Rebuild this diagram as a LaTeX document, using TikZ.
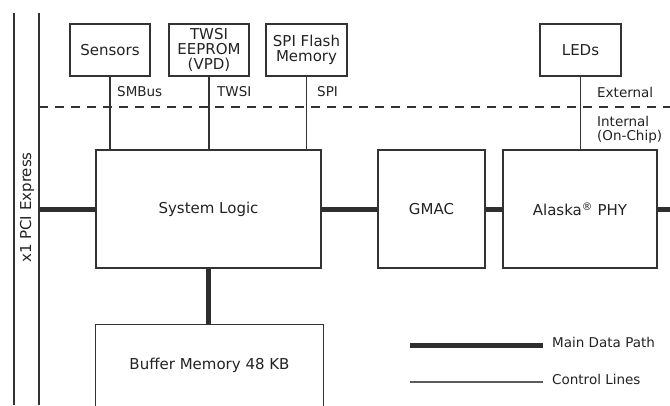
\documentclass[tikz,border=0pt]{standalone}
\usepackage{fontspec}
\setmainfont{DejaVu Sans}
\definecolor{linegray}{HTML}{333333}
\definecolor{textgray}{HTML}{222222}
\tikzstyle{block} = [draw=linegray, line width=1.2pt, rectangle, inner sep=0pt, align=center, text=textgray]
\tikzstyle{lbl} = [anchor=west, inner sep=0pt, text=textgray, align=left, font=\fontsize{13.5}{14}\selectfont]
\tikzstyle{ctrl} = [draw=linegray, line width=1.2pt]
\tikzstyle{datapath} = [draw=linegray!90!black, line width=5pt]

\begin{document}
\begin{tikzpicture}[x=1pt, y=-1pt, font=\fontsize{15}{15}\selectfont]
      \useasboundingbox (0,0) rectangle (670,405);

      \node[block, minimum width=80pt, minimum height=52pt] (sens) at (110,50) {Sensors};
      \node[block, minimum width=80pt, minimum height=52pt] (twsi) at (209,50) {TWSI\\EEPROM\\(VPD)};
      \node[block, minimum width=81pt, minimum height=52pt] (spi) at (306.5,50) {SPI Flash\\Memory};
      \node[block, minimum width=81pt, minimum height=52pt] (leds) at (580.5,50) {LEDs};

      \node[block, minimum width=225pt, minimum height=118pt] (logic) at (208.5,209) {System Logic};
      \node[block, minimum width=107pt, minimum height=118pt] (gmac) at (431.5,209) {GMAC};
      \node[block, minimum width=154pt, minimum height=118pt] (phy) at (580,209) {Alaska\textsuperscript{®} PHY};
      \node[block, draw=none, minimum width=227pt, minimum height=80pt] (buf) at (209.5,365) {Buffer Memory 48 KB};

      \node[lbl] (smbus) at (117,92) {SMBus};
      \node[lbl] (twsil) at (217,92) {TWSI};
      \node[lbl] (spil) at (317,92) {SPI};
      \node[lbl] (ext) at (597,92) {External};
      \node[lbl] (int) at (597,130) {Internal\\(On-Chip)};
      \node[rotate=90, inner sep=0pt, text=textgray] (pcie) at (27,207.5) {x1 PCI Express};

      \coordinate (pcitop) at (14,13);
      \coordinate (pcibot) at (14,405);
      \coordinate (bustop) at (39,13);
      \coordinate (busbot) at (39,405);
      \coordinate (dashl) at (39,107);
      \coordinate (dashr) at (670,107);
      \coordinate (phyout) at (670,209);

      \draw[ctrl] (pcitop) -- (pcibot);
      \draw[ctrl] (bustop) -- (busbot);
      \draw[ctrl, dash pattern=on 9pt off 7pt] (dashl) -- (dashr);

      \draw[ctrl] (sens.south) -- (sens.south |- logic.north);
      \draw[ctrl] (twsi.south) -- (twsi.south |- logic.north);
      \draw[ctrl] (spi.south) -- (spi.south |- logic.north);
      \draw[ctrl] (leds.south) -- (leds.south |- phy.north);

      \draw[datapath] (bustop |- logic.west) -- (logic.west);
      \draw[datapath] (logic.east) -- (gmac.west);
      \draw[datapath] (gmac.east) -- (phy.west);
      \draw[datapath] (phy.east) -- (phyout);
      \draw[datapath] (logic.south) -- (logic.south |- buf.north);

      \draw[ctrl] (buf.south west) -- (buf.north west) -- (buf.north east) -- (buf.south east);

      \coordinate (lega) at (410,345);
      \coordinate (legb) at (543,345);
      \coordinate (legc) at (410,382);
      \coordinate (legd) at (543,382);
      \node[lbl] (mainl) at (552,342) {Main Data Path};
      \node[lbl] (ctrll) at (552,379) {Control Lines};
      \draw[datapath] (lega) -- (legb);
      \draw[ctrl, draw=linegray!80] (legc) -- (legd);
    \end{tikzpicture}
\end{document}
